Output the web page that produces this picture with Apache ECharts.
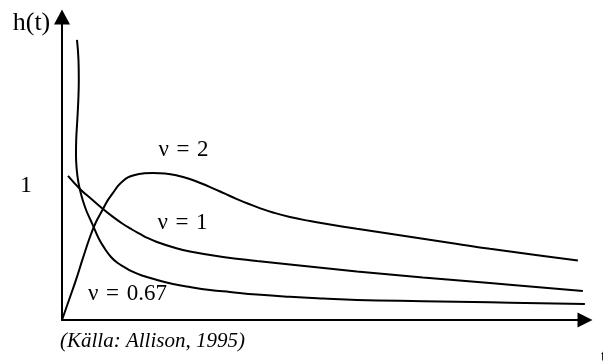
<!DOCTYPE html>
<html>
<head>
<meta charset="utf-8">
<script src="https://cdn.jsdelivr.net/npm/echarts@6/dist/echarts.min.js"></script>
<style>
  html, body { margin: 0; padding: 0; background: #fff; }
  #chart { width: 603px; height: 362px; }
</style>
</head>
<body>
<div id="chart"></div>
<script>
// Hazard h(t) for three shape parameters (time t, hazard h)
const tNu2 = [0, 0.132, 0.264, 0.396, 0.528, 0.642, 0.774, 0.868, 0.962, 1.057, 1.151, 1.245, 1.340, 1.434, 1.528, 1.717, 1.943, 2.170, 2.396, 2.623, 2.849, 3.075, 3.302, 3.528, 3.755, 3.981, 4.302, 4.679, 5.057, 5.566, 6.189, 6.811, 7.434, 8.075, 8.906, 9.736];
const hNu2 = [0, 0.149, 0.299, 0.463, 0.619, 0.731, 0.828, 0.896, 0.948, 1.000, 1.037, 1.063, 1.078, 1.087, 1.093, 1.097, 1.093, 1.078, 1.054, 1.020, 0.982, 0.942, 0.902, 0.865, 0.831, 0.802, 0.768, 0.738, 0.712, 0.680, 0.643, 0.606, 0.569, 0.531, 0.487, 0.444];

const tNu1 = [0.113, 0.358, 0.566, 0.774, 0.962, 1.151, 1.321, 1.472, 1.623, 1.792, 2.094, 2.415, 3.038, 3.679, 4.302, 5.566, 6.811, 8.075, 9.830];
const hNu1 = [1.075, 0.970, 0.899, 0.828, 0.769, 0.716, 0.675, 0.642, 0.610, 0.582, 0.543, 0.511, 0.470, 0.440, 0.414, 0.362, 0.317, 0.276, 0.216];

const tNu067 = [0.283, 0.311, 0.317, 0.308, 0.289, 0.268, 0.264, 0.279, 0.308, 0.349, 0.396, 0.462, 0.538, 0.604, 0.698, 0.811, 0.925, 1.038, 1.170, 1.321, 1.509, 1.792, 2.094, 2.415, 2.792, 3.170, 3.679, 4.302, 4.925, 5.566, 6.811, 8.075, 9.868];
const hNu067 = [2.090, 1.940, 1.791, 1.642, 1.493, 1.343, 1.231, 1.119, 1.030, 0.955, 0.888, 0.813, 0.746, 0.687, 0.604, 0.530, 0.470, 0.429, 0.396, 0.362, 0.332, 0.299, 0.269, 0.246, 0.224, 0.209, 0.190, 0.173, 0.160, 0.149, 0.140, 0.132, 0.119];

const yTickLabels = ['1'];
const curveLabels = ['\u03bd\u2004=\u20042', '\u03bd\u2004=\u20041', '\u03bd\u2004=\u20040.67'];

const zip = (xs, ys) => xs.map((x, i) => [x, ys[i]]);

const serif = '"Liberation Serif", "Times New Roman", serif';

const curve = (name, data) => ({
  name,
  type: 'line',
  data,
  smooth: 0.45,
  showSymbol: false,
  lineStyle: { color: '#000', width: 2 },
  silent: true
});

const chart = echarts.init(document.getElementById('chart'), null, { renderer: 'canvas' });

chart.setOption({
  animation: false,
  backgroundColor: '#fff',
  grid: { left: 62, top: 17, width: 523, height: 303 },
  xAxis: {
    type: 'value',
    min: 0,
    max: 9.87,
    axisLine: {
      show: true,
      symbol: ['none', 'triangle'],
      symbolSize: [15, 15],
      lineStyle: { color: '#000', width: 2 }
    },
    axisTick: { show: false },
    axisLabel: { show: false },
    splitLine: { show: false }
  },
  yAxis: {
    type: 'value',
    min: 0,
    max: 2.26,
    interval: 1,
    axisLine: {
      show: true,
      symbol: ['none', 'triangle'],
      symbolSize: [16, 15],
      lineStyle: { color: '#000', width: 2 }
    },
    axisTick: { show: false },
    splitLine: { show: false },
    axisLabel: {
      show: true,
      margin: 30,
      color: '#000',
      fontFamily: serif,
      fontSize: 24,
      showMaxLabel: false,
      formatter: v => (yTickLabels.includes(String(v)) ? String(v) : '')
    }
  },
  series: [
    curve(curveLabels[0], zip(tNu2, hNu2)),
    curve(curveLabels[1], zip(tNu1, hNu1)),
    curve(curveLabels[2], zip(tNu067, hNu067))
  ],
  graphic: [
    {
      type: 'text', x: 31.5, y: 23,
      style: { text: 'h(t)', font: '26px ' + serif, fill: '#000', align: 'center', verticalAlign: 'middle' }
    },
    {
      type: 'text', x: 183.5, y: 149.5,
      style: { text: curveLabels[0], font: '23px ' + serif, fill: '#000', align: 'center', verticalAlign: 'middle' }
    },
    {
      type: 'text', x: 182.5, y: 222.5,
      style: { text: curveLabels[1], font: '23px ' + serif, fill: '#000', align: 'center', verticalAlign: 'middle' }
    },
    {
      type: 'text', x: 127.5, y: 293.5,
      style: { text: curveLabels[2], font: '23px ' + serif, fill: '#000', align: 'center', verticalAlign: 'middle' }
    },
    {
      // cut-off strip under the lowest curve label
      type: 'rect', shape: { x: 80, y: 301, width: 96, height: 8 },
      style: { fill: '#fff' }, z: 100
    },
    {
      type: 'text', x: 60, y: 341.5,
      style: { text: '(Källa: Allison, 1995)', font: 'italic 21px ' + serif, fill: '#000', align: 'left', verticalAlign: 'middle' }
    },
    {
      type: 'text', x: 601, y: 349,
      style: { text: 't', font: '16px ' + serif, fill: '#000', align: 'left', verticalAlign: 'top' }
    }
  ]
});
</script>
</body>
</html>
